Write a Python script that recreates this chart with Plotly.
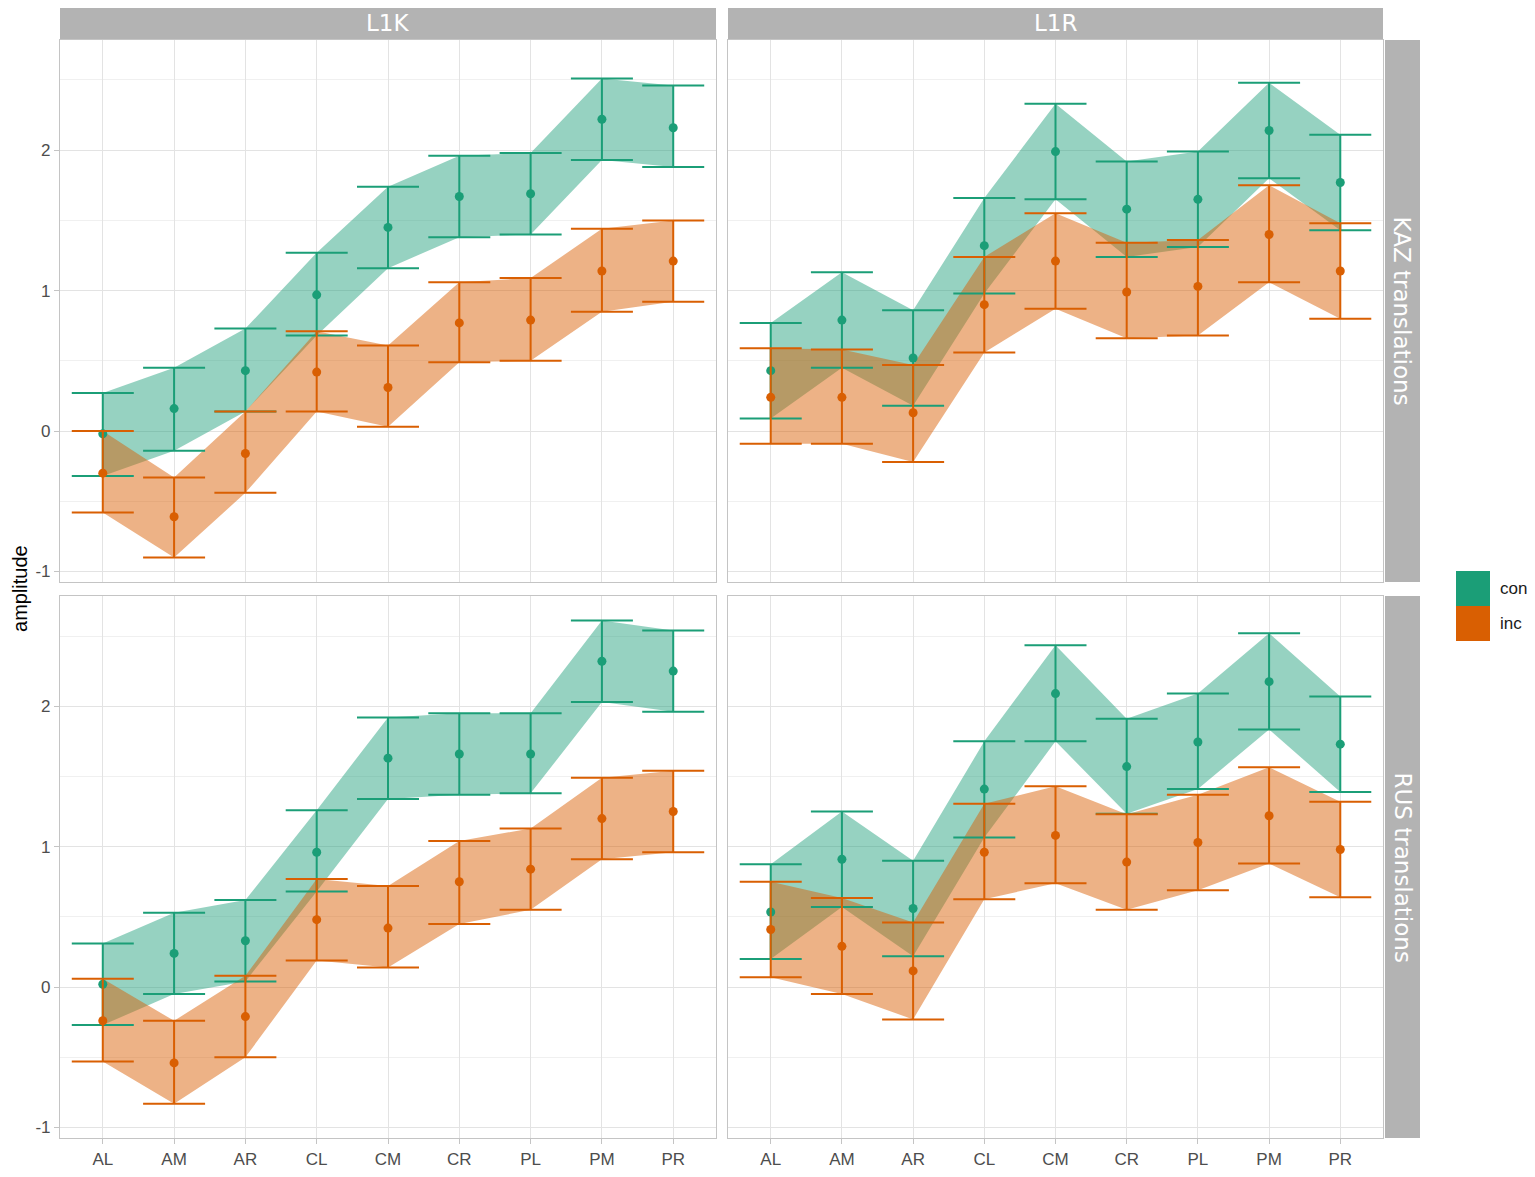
import plotly.graph_objects as go

categories = ["AL", "AM", "AR", "CL", "CM", "CR", "PL", "PM", "PR"]
col_labels = ["L1K", "L1R"]
row_labels = ["KAZ translations", "RUS translations"]
groups = ["con", "inc"]
y_ticks = [-1, 0, 1, 2]

# KAZ translations, L1K
kaz_l1k_con_mean = [-0.02, 0.16, 0.43, 0.97, 1.45, 1.67, 1.69, 2.22, 2.16]
kaz_l1k_con_low = [-0.32, -0.14, 0.14, 0.68, 1.16, 1.38, 1.40, 1.93, 1.88]
kaz_l1k_con_high = [0.27, 0.45, 0.73, 1.27, 1.74, 1.96, 1.98, 2.51, 2.46]
kaz_l1k_inc_mean = [-0.30, -0.61, -0.16, 0.42, 0.31, 0.77, 0.79, 1.14, 1.21]
kaz_l1k_inc_low = [-0.58, -0.90, -0.44, 0.14, 0.03, 0.49, 0.50, 0.85, 0.92]
kaz_l1k_inc_high = [0.00, -0.33, 0.14, 0.71, 0.61, 1.06, 1.09, 1.44, 1.50]

# KAZ translations, L1R
kaz_l1r_con_mean = [0.43, 0.79, 0.52, 1.32, 1.99, 1.58, 1.65, 2.14, 1.77]
kaz_l1r_con_low = [0.09, 0.45, 0.18, 0.98, 1.65, 1.24, 1.31, 1.80, 1.43]
kaz_l1r_con_high = [0.77, 1.13, 0.86, 1.66, 2.33, 1.92, 1.99, 2.48, 2.11]
kaz_l1r_inc_mean = [0.24, 0.24, 0.13, 0.90, 1.21, 0.99, 1.03, 1.40, 1.14]
kaz_l1r_inc_low = [-0.09, -0.09, -0.22, 0.56, 0.87, 0.66, 0.68, 1.06, 0.80]
kaz_l1r_inc_high = [0.59, 0.58, 0.47, 1.24, 1.55, 1.34, 1.36, 1.75, 1.48]

# RUS translations, L1K
rus_l1k_con_mean = [0.02, 0.24, 0.33, 0.96, 1.63, 1.66, 1.66, 2.32, 2.25]
rus_l1k_con_low = [-0.27, -0.05, 0.04, 0.68, 1.34, 1.37, 1.38, 2.03, 1.96]
rus_l1k_con_high = [0.31, 0.53, 0.62, 1.26, 1.92, 1.95, 1.95, 2.61, 2.54]
rus_l1k_inc_mean = [-0.24, -0.54, -0.21, 0.48, 0.42, 0.75, 0.84, 1.20, 1.25]
rus_l1k_inc_low = [-0.53, -0.83, -0.50, 0.19, 0.14, 0.45, 0.55, 0.91, 0.96]
rus_l1k_inc_high = [0.06, -0.24, 0.08, 0.77, 0.72, 1.04, 1.13, 1.49, 1.54]

# RUS translations, L1R
rus_l1r_con_mean = [0.535, 0.91, 0.56, 1.41, 2.09, 1.57, 1.745, 2.175, 1.73]
rus_l1r_con_low = [0.20, 0.57, 0.22, 1.065, 1.75, 1.235, 1.41, 1.835, 1.39]
rus_l1r_con_high = [0.875, 1.25, 0.90, 1.75, 2.435, 1.91, 2.09, 2.52, 2.07]
rus_l1r_inc_mean = [0.41, 0.29, 0.115, 0.96, 1.08, 0.89, 1.03, 1.22, 0.98]
rus_l1r_inc_low = [0.07, -0.05, -0.23, 0.625, 0.74, 0.55, 0.69, 0.88, 0.64]
rus_l1r_inc_high = [0.75, 0.635, 0.46, 1.305, 1.43, 1.23, 1.37, 1.565, 1.32]

panels = {
    (0, 0): {"con": (kaz_l1k_con_mean, kaz_l1k_con_low, kaz_l1k_con_high),
             "inc": (kaz_l1k_inc_mean, kaz_l1k_inc_low, kaz_l1k_inc_high)},
    (0, 1): {"con": (kaz_l1r_con_mean, kaz_l1r_con_low, kaz_l1r_con_high),
             "inc": (kaz_l1r_inc_mean, kaz_l1r_inc_low, kaz_l1r_inc_high)},
    (1, 0): {"con": (rus_l1k_con_mean, rus_l1k_con_low, rus_l1k_con_high),
             "inc": (rus_l1k_inc_mean, rus_l1k_inc_low, rus_l1k_inc_high)},
    (1, 1): {"con": (rus_l1r_con_mean, rus_l1r_con_low, rus_l1r_con_high),
             "inc": (rus_l1r_inc_mean, rus_l1r_inc_low, rus_l1r_inc_high)},
}

colors = {"con": "#1b9e77", "inc": "#d95f02"}
fills = {"con": "rgba(27,158,119,0.46)", "inc": "rgba(217,95,2,0.48)"}

# the page body adds an 8px margin on every side; keep the figure inside the window
OFF = 8
W, H = 1535 - 2 * OFF, 1177 - 2 * OFF
def px(x):
    return (x - OFF) / W
def py(y):
    return 1 - (y - OFF) / H

col_dom = [[px(60), px(716)], [px(728), px(1383)]]
row_dom = [[py(583), py(40)], [py(1140), py(597)]]

fig = go.Figure()

def axis_ids(r, c):
    n = r * 2 + c + 1
    return ("x" if n == 1 else f"x{n}"), ("y" if n == 1 else f"y{n}"), n

for (r, c), data in panels.items():
    xa, ya, n = axis_ids(r, c)
    for g in groups:
        m, lo, hi = data[g]
        fig.add_trace(go.Scatter(
            x=categories + categories[::-1], y=hi + lo[::-1],
            fill="toself", fillcolor=fills[g], mode="none",
            line=dict(width=0), hoverinfo="skip", showlegend=False,
            xaxis=xa, yaxis=ya))
    for g in groups:
        m, lo, hi = data[g]
        fig.add_trace(go.Scatter(
            x=categories, y=m, mode="markers",
            marker=dict(color=colors[g], size=9),
            error_y=dict(type="data", symmetric=False,
                         array=[h - v for h, v in zip(hi, m)],
                         arrayminus=[v - l for v, l in zip(m, lo)],
                         width=31, thickness=2, color=colors[g]),
            showlegend=False, name=g, xaxis=xa, yaxis=ya))

tick_font = dict(family="Liberation Sans, Arial, sans-serif", size=17, color="#4d4d4d")
layout = dict(
    width=W, height=H, margin=dict(l=0, r=0, t=0, b=0),
    paper_bgcolor="white", plot_bgcolor="white", showlegend=False,
)
for r in range(2):
    for c in range(2):
        xa, ya, n = axis_ids(r, c)
        xkey = "xaxis" if n == 1 else f"xaxis{n}"
        ykey = "yaxis" if n == 1 else f"yaxis{n}"
        layout[xkey] = dict(
            domain=col_dom[c], anchor=ya, type="category",
            categoryorder="array", categoryarray=categories,
            range=[-0.6, len(categories) - 0.4],
            showgrid=True, gridcolor="#e3e3e3", gridwidth=1,
            showline=True, mirror=True, linecolor="#c4c4c4", linewidth=1.2,
            showticklabels=(r == 1), ticks="outside" if r == 1 else "",
            ticklen=5, tickcolor="#c4c4c4", tickfont=tick_font, zeroline=False,
        )
        layout[ykey] = dict(
            domain=row_dom[r], anchor=xa,
            range=[-1.075, 2.785], tickvals=y_ticks, ticktext=[str(v) for v in y_ticks],
            showgrid=True, gridcolor="#e3e3e3", gridwidth=1,
            minor=dict(dtick=0.5, tick0=0, showgrid=True, gridcolor="#f0f0f0", gridwidth=1),
            showline=True, mirror=True, linecolor="#c4c4c4", linewidth=1.2,
            showticklabels=(c == 0), ticks="outside" if c == 0 else "",
            ticklen=5, tickcolor="#c4c4c4", tickfont=tick_font, zeroline=False,
        )
fig.update_layout(**layout)

shapes = []
annotations = []
strip_font = dict(family="DejaVu Sans", size=23, color="white")
for c, lab in enumerate(col_labels):
    shapes.append(dict(type="rect", xref="paper", yref="paper",
                       x0=col_dom[c][0], x1=col_dom[c][1], y0=py(40), y1=py(8),
                       fillcolor="#b3b3b3", line=dict(width=0), layer="below"))
    annotations.append(dict(text=lab, xref="paper", yref="paper",
                            x=(col_dom[c][0] + col_dom[c][1]) / 2, y=py(23),
                            showarrow=False, font=strip_font,
                            xanchor="center", yanchor="middle"))
for r, lab in enumerate(row_labels):
    shapes.append(dict(type="rect", xref="paper", yref="paper",
                       x0=px(1385), x1=px(1420), y0=row_dom[r][0], y1=row_dom[r][1],
                       fillcolor="#b3b3b3", line=dict(width=0), layer="below"))
    annotations.append(dict(text=lab, xref="paper", yref="paper",
                            x=px(1402.5), y=(row_dom[r][0] + row_dom[r][1]) / 2,
                            showarrow=False, font=strip_font, textangle=90,
                            xanchor="center", yanchor="middle"))

annotations.append(dict(text="amplitude", xref="paper", yref="paper",
                        x=px(20), y=py(590), showarrow=False, textangle=-90,
                        font=dict(family="Liberation Sans, Arial, sans-serif", size=20, color="black"),
                        xanchor="center", yanchor="middle"))

legend_top = [572, 607]
for g, top in zip(groups, legend_top):
    shapes.append(dict(type="rect", xref="paper", yref="paper",
                       x0=px(1456), x1=px(1490), y0=py(top + 35), y1=py(top),
                       fillcolor=colors[g], line=dict(width=0)))
    annotations.append(dict(text=g, xref="paper", yref="paper",
                            x=px(1498), y=py(top + 17.5), showarrow=False,
                            font=dict(family="Liberation Sans, Arial, sans-serif", size=17, color="#1a1a1a"),
                            xanchor="left", yanchor="middle"))

fig.update_layout(shapes=shapes, annotations=annotations)
fig.write_html("out.html")
